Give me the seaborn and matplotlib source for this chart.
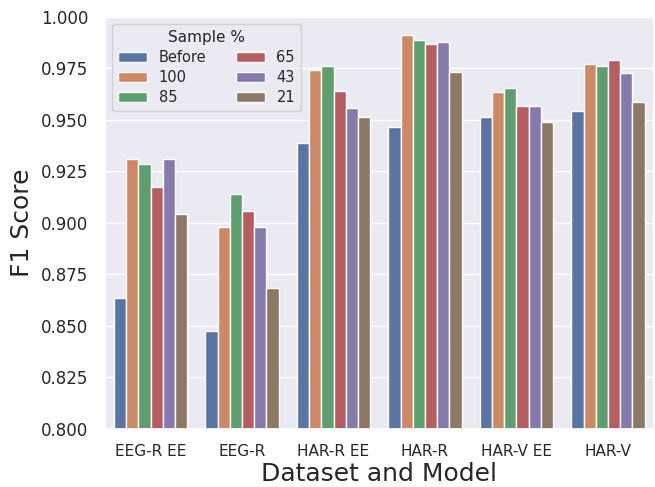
import numpy as np
import pandas as pd
import matplotlib
matplotlib.use("Agg")
import matplotlib.pyplot as plt
import seaborn as sns

sns.set_theme(style="darkgrid")

models = ["EEG-R EE", "EEG-R", "HAR-R EE", "HAR-R", "HAR-V EE", "HAR-V"]
samples = ["Before", "100", "85", "65", "43", "21"]

before = [0.8636, 0.8475, 0.9389, 0.9464, 0.9516, 0.9543]
s100 = [0.9310, 0.8982, 0.9742, 0.9912, 0.9635, 0.9770]
s85 = [0.9288, 0.9140, 0.9762, 0.9888, 0.9656, 0.9763]
s65 = [0.9175, 0.9059, 0.9642, 0.9870, 0.9566, 0.9790]
s43 = [0.9310, 0.8982, 0.9556, 0.9878, 0.9566, 0.9728]
s21 = [0.9045, 0.8684, 0.9514, 0.9734, 0.9488, 0.9587]

rows = []
for name, vals in zip(samples, [before, s100, s85, s65, s43, s21]):
    for m, v in zip(models, vals):
        rows.append({"model": m, "sample": name, "f1": v})
df = pd.DataFrame(rows)

fig, ax = plt.subplots(figsize=(6.55, 4.87), dpi=100)
sns.barplot(data=df, x="model", y="f1", hue="sample", hue_order=samples,
            order=models, palette="deep", edgecolor="white", linewidth=1,
            ax=ax)

ax.set_ylim(0.8, 1.0)
ticks = np.arange(0.8, 1.0001, 0.025)
ax.set_yticks(ticks)
ax.set_yticklabels(["%.3f" % t for t in ticks])
ax.tick_params(axis="x", labelsize=11, pad=5)
ax.tick_params(axis="y", labelsize=12, pad=6)
ax.set_xlabel("Dataset and Model", fontsize=18, labelpad=2)
ax.set_ylabel("F1 Score", fontsize=18, labelpad=5)
ax.legend(title="Sample %", ncol=2, loc="upper left", fontsize=10.5,
          title_fontsize=11, labelspacing=0.35)

fig.subplots_adjust(left=0.160, right=0.998, top=0.965, bottom=0.12)
fig.savefig("out.png", dpi=100)
